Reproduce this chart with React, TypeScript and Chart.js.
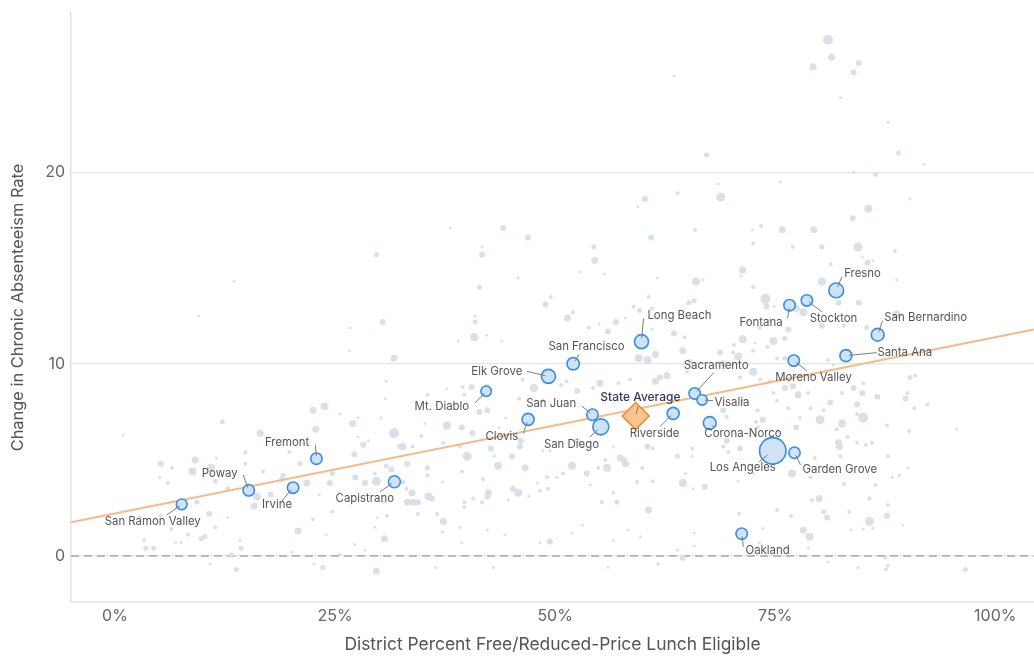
import React, { useEffect, useRef } from 'react';
import { Chart, registerables } from 'chart.js';

Chart.register(...registerables);

// ---------- axes ----------
const xTicks = [0, 25, 50, 75, 100];
const yTicks = [0, 10, 20];
const xRange = [-5, 104.4];
const yRange = [-2.4, 28.3];
const xTitle = 'District Percent Free/Reduced-Price Lunch Eligible';
const yTitle = 'Change in Chronic Absenteeism Rate';

// ---------- highlighted districts ----------
const districtNames = [
  'San Ramon Valley', 'Poway', 'Irvine', 'Fremont', 'Capistrano', 'Mt. Diablo', 'Clovis',
  'Elk Grove', 'San Francisco', 'San Juan', 'San Diego', 'Long Beach', 'Riverside',
  'Sacramento', 'Visalia', 'Corona-Norco', 'Oakland', 'Los Angeles', 'Fontana',
  'Moreno Valley', 'Garden Grove', 'Stockton', 'Fresno', 'Santa Ana', 'San Bernardino',
];
const districtFrl = [
  7.58, 15.19, 20.23, 22.88, 31.74, 42.16, 46.93,
  49.24, 52.05, 54.24, 55.19, 59.81, 63.41,
  65.85, 66.7, 67.56, 71.19, 74.72, 76.63,
  77.11, 77.19, 78.6, 81.93, 83.03, 86.64,
];
const districtChange = [
  2.69, 3.42, 3.56, 5.07, 3.87, 8.59, 7.12,
  9.36, 10.02, 7.36, 6.73, 11.17, 7.43,
  8.47, 8.13, 6.93, 1.16, 5.48, 13.07,
  10.18, 5.38, 13.32, 13.84, 10.44, 11.53,
];
// relative enrollment (bubble radius)
const districtSize = [
  5.4, 5.7, 5.7, 5.7, 6.0, 5.2, 6.0,
  7.0, 6.2, 5.7, 8.0, 7.0, 6.0,
  5.7, 5.2, 6.4, 5.7, 13.2, 5.7,
  5.7, 5.7, 5.7, 7.4, 6.0, 6.4,
];

// ---------- state average + trend ----------
const stateAverageName = 'State Average';
const stateAverageFrl = 59.15;
const stateAverageChange = 7.29;
const trendFrl = [-5, 104.4];
const trendChange = [1.76, 11.8];

// ---------- all other districts: [frl %, change, size] ----------
const otherDistricts: [number, number, number][] = [
  [81.0, 26.9, 5], [81.4, 26.0, 3.5], [79.3, 25.5, 3.5], [84.5, 25.7, 3], [83.9, 25.2, 3], [82.4, 23.9, 1.5],
  [87.8, 22.6, 1.5], [89.0, 21.0, 2.5], [91.9, 20.4, 1.5], [86.4, 19.9, 2.5], [83.9, 20.0, 1.5], [75.6, 19.5, 1.5],
  [68.8, 18.7, 4.5], [90.3, 18.6, 1.5], [85.6, 18.1, 4], [83.8, 17.6, 3], [73.4, 17.2, 2], [72.4, 17.0, 1.5],
  [75.8, 17.0, 3.5], [79.4, 17.0, 3.5], [72.5, 16.3, 2], [77.0, 16.1, 2], [80.3, 16.1, 2.5], [84.4, 16.1, 4.5],
  [88.6, 15.9, 2], [84.9, 15.6, 1.5], [86.1, 15.4, 1.5], [85.5, 15.3, 3], [81.3, 15.2, 2], [71.3, 14.9, 3.5],
  [71.1, 14.6, 1.5], [80.3, 14.3, 4], [88.8, 14.4, 1.5], [72.5, 14.0, 2], [73.9, 13.4, 5], [82.2, 13.2, 3],
  [84.5, 13.2, 3],
  [63.5, 25.0, 1.5], [67.2, 20.9, 2.5], [68.5, 19.4, 1.5], [60.2, 18.6, 3], [63.9, 18.9, 2], [59.4, 18.2, 1.5],
  [38.1, 17.1, 1.5], [44.1, 17.1, 3], [46.9, 16.6, 3], [41.7, 16.1, 1.5], [41.7, 15.7, 3], [54.4, 16.1, 2.5],
  [60.9, 16.6, 3], [65.9, 17.0, 2], [54.5, 15.4, 3.5], [45.8, 14.5, 1.5], [52.8, 14.8, 1.5], [55.6, 14.7, 1.5],
  [61.6, 14.5, 1.5], [66.0, 14.3, 4], [66.8, 14.4, 1.5], [41.4, 14.0, 2.5], [49.5, 13.5, 2], [60.6, 13.5, 2],
  [65.2, 13.2, 2.5], [65.8, 13.3, 2.5], [48.9, 13.1, 3],
  [29.7, 15.7, 2.5], [13.5, 14.3, 1.5], [30.4, 12.2, 3], [40.9, 12.2, 2.5], [40.9, 12.5, 1.5], [26.7, 11.9, 1.5],
  [9.5, 12.5, 1.5],
  [26.6, 10.7, 1.5], [31.7, 10.3, 3.5], [30.8, 9.1, 1.5], [30.7, 8.2, 1.5], [22.5, 7.6, 3.5], [23.8, 7.8, 4],
  [25.6, 7.4, 1.5], [27.6, 7.2, 1.5], [27.0, 6.9, 3.5], [30.2, 7.2, 1.5], [31.7, 6.4, 5], [27.6, 6.2, 1.5],
  [22.8, 6.6, 3.5], [16.5, 6.4, 3.5], [12.2, 7.0, 2.5], [0.9, 6.3, 1.5], [28.2, 5.8, 3], [28.8, 6.0, 1.5],
  [14.8, 5.4, 2], [19.8, 5.4, 2], [27.2, 5.3, 3], [5.2, 4.8, 3], [6.5, 4.6, 2], [9.1, 5.0, 3.5],
  [8.8, 4.4, 4], [11.5, 5.1, 1.5], [14.8, 4.8, 2], [10.9, 4.6, 4], [5.1, 4.1, 1.5], [6.0, 3.8, 2],
  [11.4, 3.9, 2.5], [16.8, 4.4, 2], [19.1, 4.2, 2.5], [18.9, 4.0, 2.5], [21.0, 4.8, 2.5], [21.8, 3.8, 3.5],
  [24.7, 4.3, 2.5], [24.4, 3.8, 3], [27.3, 4.1, 3], [28.4, 3.8, 3], [29.7, 3.9, 4.5], [29.5, 4.3, 2],
  [30.8, 4.7, 2.5], [31.4, 4.5, 3], [12.8, 3.5, 2.5], [16.1, 3.1, 4], [17.7, 3.2, 3], [15.8, 2.6, 3.5],
  [9.3, 2.8, 2.5], [10.7, 2.2, 3], [5.2, 2.1, 2], [2.8, 2.0, 2], [6.4, 1.4, 2], [8.3, 1.1, 2],
  [11.4, 1.5, 2], [9.8, 0.9, 2.5], [10.2, 1.0, 2.5], [12.8, 2.0, 1.5], [3.3, 0.8, 2], [3.5, 0.4, 2.5],
  [4.4, 0.4, 2.5], [6.9, 0.7, 1.5], [7.5, 0.7, 1.5], [14.2, 0.8, 1.5], [14.3, 0.4, 2.5], [13.2, 0.05, 2.5],
  [10.8, -0.4, 1.5], [13.8, -0.7, 2.5], [20.8, 1.3, 3.5], [22.5, 1.9, 2], [24.7, 2.3, 2], [24.0, 1.1, 1.5],
  [23.2, 3.2, 1.5], [22.6, -0.4, 1.5], [23.6, -0.6, 2.5], [25.5, 0.1, 1.5], [27.2, 0.6, 1.5], [28.4, 0.3, 1.5],
  [29.5, 1.5, 1.5], [30.6, 0.9, 3.5], [29.7, -0.8, 3.5], [29.8, 2.0, 1.5], [30.9, 2.1, 2], [30.5, 2.8, 1.5],
  [20.1, 0.2, 1.5],
  [51.4, 12.4, 3.5], [52.0, 12.7, 2], [42.2, 11.5, 1.5], [40.8, 11.4, 4], [43.9, 11.2, 1.5], [39.0, 11.2, 1.5],
  [53.8, 11.9, 2], [55.0, 12.1, 1.5], [56.0, 11.7, 3], [56.9, 12.2, 3], [58.0, 12.4, 1.5], [58.9, 13.0, 2],
  [61.0, 11.8, 1.5], [63.5, 11.6, 3], [64.7, 11.4, 2], [64.5, 10.7, 3.5], [61.4, 10.5, 3.5], [59.5, 10.3, 4],
  [60.5, 10.2, 4], [65.3, 10.1, 3], [65.0, 9.6, 2], [62.7, 9.4, 3.5], [61.9, 9.3, 3], [61.4, 9.1, 3.5],
  [58.5, 9.2, 2], [57.2, 9.0, 2], [55.1, 9.0, 3.5], [52.5, 8.6, 3], [54.3, 8.75, 2], [51.3, 9.1, 2],
  [50.7, 8.9, 2], [47.6, 8.75, 4], [46.3, 9.2, 2], [45.9, 8.2, 2], [48.6, 8.1, 2], [42.3, 8.8, 3],
  [42.8, 8.7, 1.5], [40.5, 8.8, 3], [39.5, 8.8, 2], [39.7, 8.4, 2], [35.5, 8.4, 2], [37.7, 8.7, 1.5],
  [41.4, 7.5, 3], [42.3, 7.6, 3], [39.4, 6.7, 3], [37.7, 6.8, 4], [40.6, 6.4, 3], [44.4, 7.2, 1.5],
  [43.6, 6.7, 1.5], [35.2, 6.9, 1.5], [34.8, 6.25, 2], [32.7, 5.7, 3.5], [33.8, 5.7, 2], [42.7, 5.6, 3],
  [46.1, 6.0, 3], [46.0, 5.7, 3], [45.1, 5.2, 3], [40.0, 5.2, 4.5], [43.1, 5.2, 1.5], [48.6, 5.5, 1.5],
  [49.4, 5.5, 1.5], [52.5, 6.0, 3], [53.2, 5.7, 1.5], [56.6, 5.7, 1.5], [57.4, 5.1, 3.5], [58.0, 4.8, 3.5],
  [55.9, 4.6, 4], [54.9, 4.6, 2], [53.6, 4.3, 3], [51.9, 4.7, 4], [50.9, 4.3, 2], [50.2, 4.1, 1.5],
  [49.1, 4.1, 2], [48.0, 3.8, 1.5], [46.6, 4.6, 3.5], [43.5, 4.7, 4], [41.8, 4.0, 2], [42.4, 3.3, 3.5],
  [42.3, 3.1, 3], [45.2, 3.5, 3], [45.8, 3.3, 4], [47.0, 3.1, 1.5], [39.4, 4.4, 2], [35.5, 4.6, 2.5],
  [35.5, 4.2, 2], [37.2, 3.85, 1.5], [35.6, 3.1, 4], [36.0, 3.0, 3], [33.1, 3.5, 2], [33.9, 2.8, 3.5],
  [33.2, 2.8, 3.5], [39.7, 2.8, 2], [39.7, 2.55, 2], [40.7, 3.0, 2], [41.7, 2.8, 2], [44.7, 2.9, 1.5],
  [49.2, 3.5, 2], [48.3, 3.4, 2], [54.0, 3.7, 1.5], [55.3, 2.8, 2], [56.6, 3.3, 2], [57.0, 2.8, 2.5],
  [60.6, 2.4, 3.5], [59.3, 3.85, 2], [61.1, 3.9, 2], [64.8, 4.3, 1.5], [64.5, 3.8, 4], [65.7, 3.5, 1.5],
  [67.0, 3.6, 3], [59.9, 4.6, 2], [63.9, 5.2, 2.5], [65.6, 5.6, 2], [65.6, 5.2, 1.5], [60.5, 5.7, 3],
  [61.1, 5.6, 2], [57.8, 5.0, 3], [37.3, 1.8, 3.5], [39.2, 1.5, 1.5], [37.2, 1.25, 1.5], [42.3, 1.35, 1.5],
  [44.3, 1.1, 1.5], [39.4, 0.7, 1.5], [48.3, 0.7, 1.5], [49.4, 0.75, 3], [51.9, 1.2, 1.5], [53.1, 1.6, 1.5],
  [56.6, 0.8, 1.5], [58.3, 1.35, 1.5], [59.7, 1.0, 1.5], [63.9, 0.3, 1.5], [64.5, -0.1, 3], [65.8, 1.2, 1.5],
  [65.8, 0.5, 1.5], [61.7, -0.4, 2], [36.4, -0.6, 1.5], [43.0, -0.6, 1.5], [56.0, -0.6, 1.5], [37.3, 5.9, 2],
  [39.2, 5.7, 2], [55.7, 5.0, 2], [33.2, 4.8, 3], [32.4, 5.7, 3], [32.7, 3.85, 2.5], [33.75, 3.3, 3.5],
  [34.4, 2.8, 3], [36.6, 2.2, 2], [34.4, 2.2, 2],
  [70.3, 11.0, 2], [71.3, 11.3, 4], [72.7, 11.1, 1.5], [74.8, 11.2, 4], [76.1, 11.35, 2.5], [72.5, 10.7, 2],
  [74.1, 10.9, 2], [68.75, 10.6, 3], [70.2, 10.6, 2], [70.8, 10.4, 4], [69.1, 10.05, 3], [75.2, 10.3, 2],
  [76.1, 10.3, 2.5], [72.5, 9.6, 4], [73.3, 9.2, 2], [71.0, 9.3, 2], [70.1, 9.95, 2], [74.4, 9.1, 2],
  [76.1, 8.75, 3], [77.0, 8.85, 3], [77.6, 8.4, 3.5], [78.75, 8.5, 2], [81.0, 10.2, 2], [81.6, 9.95, 1.5],
  [85.0, 9.0, 2], [83.9, 8.75, 3], [84.9, 8.5, 3], [82.6, 8.5, 2], [86.6, 8.3, 3], [89.8, 8.2, 3],
  [90.0, 8.5, 2], [90.3, 9.3, 2.5], [90.9, 9.4, 2], [90.8, 7.7, 2], [92.3, 7.9, 2], [81.25, 8.0, 3],
  [79.0, 7.7, 2], [80.5, 7.6, 2], [76.5, 7.7, 2], [77.8, 7.2, 2], [80.1, 7.1, 4.5], [82.6, 6.9, 4],
  [84.3, 7.4, 2], [85.0, 7.2, 5], [87.7, 6.8, 2], [84.3, 7.9, 3], [77.4, 6.7, 3], [82.0, 6.6, 2],
  [83.2, 6.2, 2], [82.2, 5.9, 3.5], [82.3, 5.7, 3.5], [84.3, 5.9, 2], [85.3, 5.8, 2], [86.0, 5.9, 2],
  [90.2, 6.5, 2], [95.6, 6.6, 1.5], [79.5, 5.1, 2], [82.4, 5.2, 2], [87.8, 5.2, 2], [86.4, 3.7, 2],
  [88.3, 4.1, 1.5], [89.1, 4.2, 1.5], [90.1, 4.6, 1.5], [76.9, 4.3, 4], [79.0, 4.1, 2], [82.8, 3.75, 2],
  [72.5, 4.3, 1.5], [70.8, 3.9, 1.5], [80.0, 3.0, 3.5], [79.2, 2.9, 2], [85.7, 3.0, 2], [87.8, 2.65, 2],
  [75.2, 2.4, 2], [76.8, 2.1, 2], [80.5, 2.3, 2.5], [80.9, 2.0, 3], [83.4, 2.3, 2], [85.7, 1.8, 4.5],
  [87.7, 2.1, 3], [89.5, 1.6, 1.5], [78.2, 1.35, 3.5], [78.9, 1.0, 4], [73.6, 1.45, 1.5], [70.9, 2.2, 2],
  [83.6, 1.35, 1.5], [85.0, 1.4, 1.5], [86.1, 1.45, 1.5], [78.75, 0.4, 1.5], [73.2, 0.7, 1.5], [81.0, -0.3, 1.5],
  [87.5, -0.1, 2], [87.8, -0.5, 2], [87.6, -0.7, 2], [84.4, -0.6, 1.5], [96.6, -0.7, 2.5], [69.5, 6.0, 3],
  [69.1, 5.7, 2], [69.7, 5.4, 2], [71.0, 5.6, 3], [69.5, 7.25, 2], [69.1, 7.6, 3], [71.25, 8.1, 2],
  [73.0, 7.6, 2], [73.6, 7.1, 3], [72.8, 7.0, 2], [75.2, 8.1, 2], [74.8, 8.5, 2], [73.0, 6.7, 2],
  [75.3, 6.5, 2],
  [59.6, 12.8, 2.5], [61.0, 12.9, 2], [74.0, 13.0, 3], [74.9, 13.0, 1.5], [77.4, 12.9, 3.5], [78.2, 12.7, 4],
  [88.8, 12.6, 4], [85.4, 11.9, 2.5], [82.8, 12.0, 2], [80.3, 12.0, 3], [74.3, 12.3, 2], [76.5, 11.8, 3],
  [73.2, 11.9, 2],
];

// ---------- label layout (pixel offsets from the mark): [textDx, textDy, leaderDx, leaderDy] ----------
const labelLayout: Record<string, [number, number, number, number]> = {
  'San Ramon Valley': [-29, 17.4, -15, 10.7],
  'Poway': [-29, -16.3, -5.4, -15.3],
  'Irvine': [-16, 17.3, -11.3, 13.3],
  'Fremont': [-29.3, -16.4, -1, -13.7],
  'Capistrano': [-29.6, 17.3, -14.3, 10],
  'Mt. Diablo': [-44.3, 15, -11, 11.7],
  'Clovis': [-26.3, 17.4, -4.7, 14],
  'Elk Grove': [-51.6, -4.3, -21.6, -5],
  'San Francisco': [13.3, -16.7, 6.1, -9.4],
  'San Juan': [-41.3, -11.4, -10.6, -8.7],
  'San Diego': [-29.4, 17.3, -10.7, 10],
  'Long Beach': [37.9, -25.7, 2, -23.4],
  'Riverside': [-18.7, 20.4, -13.4, 13.4],
  'Sacramento': [21.5, -27.6, 19.4, -21],
  'Visalia': [29.8, 2.3, 10.9, 0.7],
  'Corona-Norco': [33.3, 11, 5, 5],
  'Oakland': [25.9, 17, 1.7, 13],
  'Los Angeles': [-30, 16.6, -13.6, 11],
  'Fontana': [-28.6, 17, -2, 13.3],
  'Moreno Valley': [19.7, 17, 12.9, 10],
  'Garden Grove': [45.3, 17, 6.1, 12.3],
  'Stockton': [26.6, 17.7, 15, 11.4],
  'Fresno': [26.3, -16.6, 5.7, -13.6],
  'Santa Ana': [58.9, -3.3, 30.7, -3],
  'San Bernardino': [48, -16.7, 4.8, -14],
  'State Average': [4.7, -19, 2.5, -10],
};

const FONT = 'Inter, "Noto Sans", "DejaVu Sans", sans-serif';

const labelPlugin = {
  id: 'districtLabels',
  afterDatasetsDraw(chart: any) {
    const { ctx } = chart;
    const xs = chart.scales.x;
    const ys = chart.scales.y;
    ctx.save();
    ctx.textAlign = 'center';
    ctx.textBaseline = 'middle';
    const drawOne = (name: string, vx: number, vy: number, r: number, bold: boolean) => {
      const px = xs.getPixelForValue(vx);
      const py = ys.getPixelForValue(vy);
      const [tx, ty, lx, ly] = labelLayout[name];
      const len = Math.hypot(lx, ly) || 1;
      const start = r * 0.5;
      ctx.strokeStyle = '#7d7d7d';
      ctx.lineWidth = 1;
      ctx.beginPath();
      ctx.moveTo(px + (lx / len) * start, py + (ly / len) * start);
      ctx.lineTo(px + lx, py + ly);
      ctx.stroke();
      ctx.font = bold ? `500 12px ${FONT}` : `11.4px ${FONT}`;
      ctx.fillStyle = bold ? '#2e3a58' : '#555555';
      ctx.fillText(name, px + tx, py + ty);
    };
    districtNames.forEach((name, i) => drawOne(name, districtFrl[i], districtChange[i], districtSize[i], false));
    drawOne(stateAverageName, stateAverageFrl, stateAverageChange, 4, true);
    ctx.restore();
  },
};

const zeroPadding = (s: any) => {
  s.paddingLeft = 0;
  s.paddingRight = 0;
  s.paddingTop = 0;
  s.paddingBottom = 0;
};

export default function App() {
  const canvasRef = useRef<HTMLCanvasElement | null>(null);

  useEffect(() => {
    const canvas = canvasRef.current;
    if (!canvas) return;
    Chart.defaults.font.family = FONT;

    const chart = new Chart(canvas, {
      type: 'bubble',
      data: {
        datasets: [
          {
            type: 'line',
            label: 'zero',
            data: [
              { x: xRange[0], y: 0 },
              { x: xRange[1], y: 0 },
            ],
            borderColor: '#a9a9a9',
            borderWidth: 1.5,
            borderDash: [8, 5],
            pointRadius: 0,
            order: 6,
          } as any,
          {
            label: 'Other districts',
            data: otherDistricts.map(([x, y, r]) => ({ x, y, r })),
            backgroundColor: '#dae0e8',
            borderWidth: 0,
            order: 5,
          },
          {
            type: 'line',
            label: 'Trend',
            data: trendFrl.map((x, i) => ({ x, y: trendChange[i] })),
            borderColor: '#f8b888',
            borderWidth: 2,
            pointRadius: 0,
            order: 4,
          } as any,
          {
            label: 'Highlighted districts',
            data: districtNames.map((_, i) => ({ x: districtFrl[i], y: districtChange[i], r: districtSize[i] })),
            backgroundColor: '#cfe2f6',
            borderColor: '#3a8de6',
            borderWidth: 1.6,
            order: 3,
          },
          {
            label: stateAverageName,
            data: [{ x: stateAverageFrl, y: stateAverageChange, r: 13.5 }],
            pointStyle: 'rectRot',
            backgroundColor: '#fbc38e',
            borderColor: '#f08a30',
            borderWidth: 1.5,
            order: 2,
          } as any,
        ],
      },
      options: {
        animation: false,
        responsive: false,
        events: [],
        layout: { autoPadding: false, padding: { top: 13, right: 0, left: 0, bottom: 0 } },
        plugins: {
          legend: { display: false },
          tooltip: { enabled: false },
        },
        scales: {
          x: {
            type: 'linear',
            min: xRange[0],
            max: xRange[1],
            afterBuildTicks: (s: any) => {
              s.ticks = xTicks.map((v) => ({ value: v }));
            },
            afterFit: (s: any) => {
              s.height = 54;
              zeroPadding(s);
            },
            ticks: {
              autoSkip: false,
              callback: (v: any) => `${v}%`,
              font: { size: 16 },
              color: '#666666',
              padding: 5,
            },
            grid: { display: true, drawOnChartArea: false, drawTicks: false },
            border: { display: true, color: '#e2e2e2', width: 1.5 },
            title: {
              display: true,
              text: xTitle,
              font: { size: 17.4 },
              color: '#555555',
              padding: { top: 0, bottom: 1 },
            },
          },
          y: {
            type: 'linear',
            min: yRange[0],
            max: yRange[1],
            afterBuildTicks: (s: any) => {
              s.ticks = yTicks.map((v) => ({ value: v }));
            },
            afterFit: (s: any) => {
              s.width = 71;
              zeroPadding(s);
            },
            ticks: {
              autoSkip: false,
              font: { size: 16 },
              color: '#666666',
              padding: 6,
            },
            grid: { color: '#e5e5e5', lineWidth: 1.2, drawTicks: false },
            border: { display: true, color: '#e2e2e2', width: 1.5 },
            title: {
              display: true,
              text: yTitle,
              font: { size: 16.4 },
              color: '#555555',
              padding: { top: 8, bottom: 0 },
            },
          },
        },
      },
      plugins: [labelPlugin],
    } as any);

    return () => chart.destroy();
  }, []);

  return (
    <div style={{ position: 'fixed', left: 0, top: 0, width: 1034, height: 656, background: '#ffffff' }}>
      <canvas ref={canvasRef} width={1034} height={656} style={{ display: 'block' }} />
    </div>
  );
}
